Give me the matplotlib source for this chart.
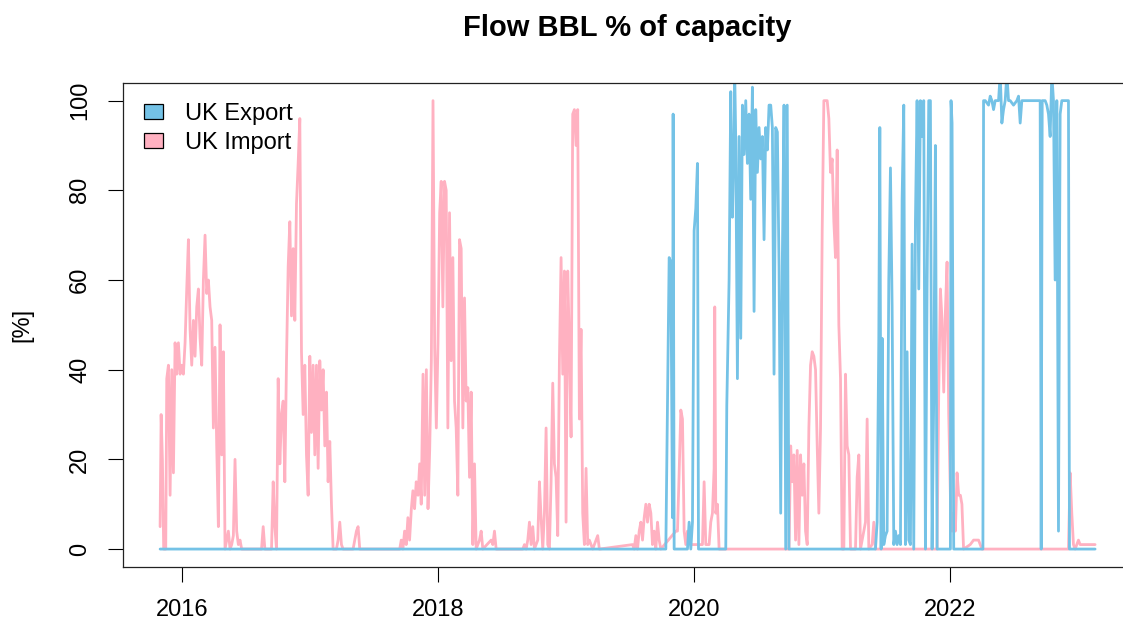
import matplotlib
matplotlib.use("Agg")
import matplotlib.pyplot as plt
from matplotlib.patches import Patch

plt.rcParams['font.family'] = ['Liberation Sans', 'DejaVu Sans']

# time as decimal year, values in % of capacity
import_x = [
    2015.831, 2015.839, 2015.849, 2015.859, 2015.875, 2015.883, 2015.896, 2015.909, 2015.922, 2015.935,
    2015.948, 2015.961, 2015.974, 2015.987, 2016.000, 2016.013, 2016.026, 2016.039, 2016.052, 2016.065,
    2016.078, 2016.091, 2016.104, 2016.117, 2016.130, 2016.143, 2016.156, 2016.169, 2016.182, 2016.195,
    2016.208, 2016.221, 2016.234, 2016.247, 2016.260, 2016.273, 2016.286, 2016.299, 2016.312, 2016.325,
    2016.338, 2016.351, 2016.364, 2016.377, 2016.390, 2016.403, 2016.416, 2016.429, 2016.442, 2016.455,
    2016.468, 2016.623, 2016.636, 2016.649, 2016.701, 2016.714, 2016.727, 2016.740, 2016.753, 2016.766,
    2016.779, 2016.792, 2016.805, 2016.818, 2016.831, 2016.844, 2016.857, 2016.870, 2016.883, 2016.896,
    2016.909, 2016.922, 2016.935, 2016.948, 2016.961, 2016.974, 2016.987, 2017.000, 2017.013, 2017.026,
    2017.039, 2017.052, 2017.065, 2017.078, 2017.091, 2017.104, 2017.117, 2017.130, 2017.143, 2017.156,
    2017.169, 2017.182, 2017.208, 2017.221, 2017.234, 2017.247, 2017.260, 2017.338, 2017.351, 2017.364,
    2017.377, 2017.390, 2017.702, 2017.714, 2017.727, 2017.740, 2017.753, 2017.766, 2017.779, 2017.793,
    2017.805, 2017.818, 2017.831, 2017.845, 2017.858, 2017.870, 2017.884, 2017.897, 2017.910, 2017.923,
    2017.936, 2017.949, 2017.962, 2017.975, 2017.988, 2018.001, 2018.014, 2018.026, 2018.039, 2018.052,
    2018.065, 2018.078, 2018.091, 2018.104, 2018.117, 2018.130, 2018.143, 2018.156, 2018.169, 2018.182,
    2018.195, 2018.208, 2018.221, 2018.234, 2018.247, 2018.260, 2018.273, 2018.286, 2018.299, 2018.312,
    2018.325, 2018.338, 2018.351, 2018.416, 2018.429, 2018.442, 2018.455, 2018.663, 2018.676, 2018.689,
    2018.702, 2018.715, 2018.728, 2018.741, 2018.754, 2018.780, 2018.793, 2018.806, 2018.819, 2018.832,
    2018.845, 2018.858, 2018.871, 2018.884, 2018.897, 2018.910, 2018.923, 2018.936, 2018.949, 2018.962,
    2018.975, 2018.988, 2019.001, 2019.014, 2019.027, 2019.040, 2019.053, 2019.066, 2019.079, 2019.092,
    2019.105, 2019.118, 2019.131, 2019.144, 2019.157, 2019.170, 2019.183, 2019.196, 2019.209, 2019.248,
    2019.261, 2019.520, 2019.533, 2019.546, 2019.559, 2019.572, 2019.585, 2019.598, 2019.611, 2019.624,
    2019.637, 2019.650, 2019.663, 2019.676, 2019.689, 2019.702, 2019.715, 2019.728, 2019.741, 2019.858,
    2019.871, 2019.884, 2019.897, 2019.910, 2019.923, 2019.936, 2019.949, 2019.962, 2019.975, 2020.066,
    2020.079, 2020.092, 2020.118, 2020.131, 2020.144, 2020.157, 2020.162, 2020.170, 2020.183, 2020.196,
    2020.742, 2020.755, 2020.768, 2020.780, 2020.793, 2020.806, 2020.819, 2020.832, 2020.845, 2020.858,
    2020.871, 2020.884, 2020.897, 2020.910, 2020.923, 2020.936, 2020.949, 2020.962, 2020.975, 2020.988,
    2021.001, 2021.014, 2021.027, 2021.040, 2021.053, 2021.066, 2021.079, 2021.092, 2021.105, 2021.118,
    2021.131, 2021.144, 2021.157, 2021.170, 2021.183, 2021.196, 2021.209, 2021.222, 2021.261, 2021.274,
    2021.287, 2021.300, 2021.339, 2021.352, 2021.365, 2021.391, 2021.404, 2021.417, 2021.898, 2021.911,
    2021.924, 2021.937, 2021.950, 2021.963, 2021.976, 2021.989, 2022.002, 2022.015, 2022.028, 2022.041,
    2022.054, 2022.067, 2022.080, 2022.092, 2022.105, 2022.157, 2022.183, 2022.196, 2022.222, 2022.235,
    2022.248, 2022.924, 2022.937, 2022.950, 2022.963, 2022.976, 2023.002, 2023.015, 2023.054, 2023.080,
    2023.106, 2023.132,
]
import_y = [
    5, 30, 20, 0, 0, 38, 41, 12, 40, 17,
    46, 39, 46, 39, 41, 39, 46, 58, 69, 49,
    41, 51, 43, 54, 58, 47, 41, 60, 70, 57,
    60, 54, 51, 27, 45, 23, 5, 50, 21, 44,
    0, 2, 4, 0, 1, 3, 20, 4, 1, 2,
    0, 0, 5, 0, 0, 15, 5, 0, 38, 19,
    30, 33, 15, 42, 63, 73, 52, 67, 51, 77,
    86, 96, 44, 30, 41, 21, 12, 43, 26, 41,
    21, 41, 18, 42, 31, 40, 23, 35, 15, 24,
    10, 0, 0, 2, 6, 1, 0, 0, 2, 4,
    5, 0, 0, 2, 0, 4, 1, 7, 2, 9,
    13, 9, 15, 12, 19, 10, 39, 12, 40, 9,
    22, 42, 100, 45, 27, 46, 75, 82, 54, 82,
    80, 27, 75, 42, 65, 33, 27, 12, 69, 67,
    27, 56, 33, 36, 16, 35, 1, 19, 0, 1,
    2, 4, 0, 2, 1, 4, 0, 0, 1, 0,
    2, 6, 1, 5, 0, 2, 15, 7, 0, 8,
    27, 1, 0, 15, 37, 19, 16, 3, 42, 65,
    39, 62, 6, 62, 45, 25, 97, 98, 90, 98,
    29, 49, 8, 1, 18, 1, 2, 1, 0, 3,
    0, 1, 0, 3, 0, 4, 6, 2, 7, 10,
    6, 10, 8, 1, 4, 0, 6, 2, 0, 4,
    4, 17, 31, 29, 4, 1, 4, 2, 1, 1,
    15, 1, 1, 6, 8, 18, 54, 8, 10, 0,
    0, 23, 15, 21, 2, 22, 1, 21, 12, 19,
    4, 1, 27, 41, 44, 43, 40, 23, 8, 27,
    71, 100, 100, 100, 96, 84, 87, 73, 65, 89,
    50, 38, 0, 0, 39, 23, 21, 0, 0, 16,
    21, 0, 6, 29, 0, 1, 6, 0, 0, 35,
    58, 51, 35, 53, 64, 30, 12, 4, 8, 4,
    17, 12, 12, 10, 0, 1, 2, 2, 2, 1,
    0, 0, 17, 8, 1, 0, 2, 1, 1, 1,
    1, 1,
]

export_x = [
    2015.831, 2019.780, 2019.793, 2019.806, 2019.819, 2019.832, 2019.837, 2019.845, 2019.949, 2019.962,
    2019.975, 2019.988, 2020.001, 2020.014, 2020.027, 2020.035, 2020.248, 2020.256, 2020.274, 2020.287,
    2020.300, 2020.313, 2020.318, 2020.326, 2020.339, 2020.352, 2020.365, 2020.378, 2020.391, 2020.404,
    2020.417, 2020.430, 2020.443, 2020.456, 2020.469, 2020.482, 2020.495, 2020.508, 2020.521, 2020.534,
    2020.547, 2020.560, 2020.573, 2020.586, 2020.599, 2020.612, 2020.625, 2020.638, 2020.651, 2020.664,
    2020.677, 2020.690, 2020.703, 2020.716, 2020.728, 2020.741, 2021.417, 2021.430, 2021.443, 2021.451,
    2021.461, 2021.469, 2021.482, 2021.495, 2021.508, 2021.521, 2021.534, 2021.547, 2021.560, 2021.573,
    2021.586, 2021.599, 2021.612, 2021.625, 2021.638, 2021.651, 2021.664, 2021.677, 2021.690, 2021.703,
    2021.716, 2021.729, 2021.742, 2021.755, 2021.768, 2021.781, 2021.794, 2021.807, 2021.820, 2021.833,
    2021.846, 2021.859, 2021.872, 2021.885, 2021.898, 2022.002, 2022.007, 2022.015, 2022.028, 2022.256,
    2022.261, 2022.274, 2022.300, 2022.313, 2022.326, 2022.339, 2022.352, 2022.365, 2022.378, 2022.391,
    2022.404, 2022.417, 2022.430, 2022.443, 2022.456, 2022.469, 2022.495, 2022.521, 2022.534, 2022.547,
    2022.560, 2022.690, 2022.703, 2022.711, 2022.719, 2022.742, 2022.755, 2022.768, 2022.781, 2022.794,
    2022.807, 2022.820, 2022.833, 2022.846, 2022.859, 2022.872, 2022.924, 2022.932, 2023.132,
]
export_y = [
    0, 0, 32, 65, 64, 7, 97, 0, 0, 6,
    0, 6, 71, 76, 86, 0, 0, 32, 60, 102,
    74, 92, 106, 91, 38, 92, 47, 99, 88, 100,
    86, 97, 78, 103, 53, 98, 84, 94, 87, 92,
    69, 94, 89, 99, 99, 94, 39, 94, 93, 63,
    8, 65, 99, 0, 99, 0, 0, 6, 47, 94,
    0, 47, 1, 3, 4, 60, 85, 54, 1, 4,
    1, 3, 1, 78, 99, 1, 44, 2, 1, 68,
    0, 73, 100, 58, 100, 92, 100, 0, 58, 100,
    100, 0, 34, 90, 0, 0, 100, 95, 0, 0,
    100, 100, 99, 101, 100, 98, 100, 100, 100, 106,
    95, 98, 100, 106, 100, 100, 99, 100, 101, 95,
    100, 100, 100, 0, 100, 100, 99, 97, 92, 106,
    100, 60, 100, 4, 97, 100, 100, 0, 0,
]

year_ticks = [2016, 2018, 2020, 2022]
pct_ticks = [0, 20, 40, 60, 80, 100]

col_export = '#74C2E6'
col_import = '#FFB1C1'

W, H = 1123, 627
fig = plt.figure(figsize=(W / 100, H / 100), dpi=100)
# plot region in pixels: left 122.7, right 1132.5 (runs past the image edge), top 82.7, bottom 567
ax = fig.add_axes([122.7 / W, (H - 567) / H, (1132.5 - 122.7) / W, (567 - 82.7) / H])
ax_w = 1132.5 - 122.7
ax_h = 567 - 82.7

ax.plot(import_x, import_y, color=col_import, lw=2.0,
        solid_joinstyle='round', solid_capstyle='round')
ax.plot(export_x, export_y, color=col_export, lw=2.0,
        solid_joinstyle='round', solid_capstyle='round')

# R style 4% padding
xmin = min(min(import_x), min(export_x))
xmax = max(max(import_x), max(export_x))
pad = 0.04 * (xmax - xmin)
ax.set_xlim(xmin - pad, xmax + pad)
ax.set_ylim(-4, 104)

ax.set_xticks(year_ticks)
ax.set_xticklabels([str(y) for y in year_ticks])
ax.set_yticks(pct_ticks)
ax.set_yticklabels([str(v) for v in pct_ticks], rotation=90, va='center')
ax.tick_params(axis='both', direction='out', length=10.8, width=0.8,
               labelsize=17, colors='black')
ax.tick_params(axis='x', pad=12)
ax.tick_params(axis='y', pad=12)
for s in ax.spines.values():
    s.set_linewidth(0.9)
    s.set_color('#222222')

ax.set_ylabel('[%]', fontsize=17)
ax.yaxis.set_label_coords(-(122.7 - 33) / ax_w, 0.5)

fig.text(627.6 / W, 1 - 36 / H, 'Flow BBL % of capacity', ha='center', va='baseline',
         fontsize=21, fontweight='bold')

handles = [Patch(facecolor=col_export, edgecolor='black', linewidth=0.9),
           Patch(facecolor=col_import, edgecolor='black', linewidth=0.9)]
ax.legend(handles, ['UK Export', 'UK Import'], loc='upper left',
          bbox_to_anchor=(21 / ax_w, 1 - 20 / ax_h),
          frameon=False, fontsize=17, borderpad=0, borderaxespad=0,
          handlelength=0.8, handleheight=0.65, handletextpad=0.95,
          labelspacing=0.3)

fig.savefig('out.png', dpi=100)
